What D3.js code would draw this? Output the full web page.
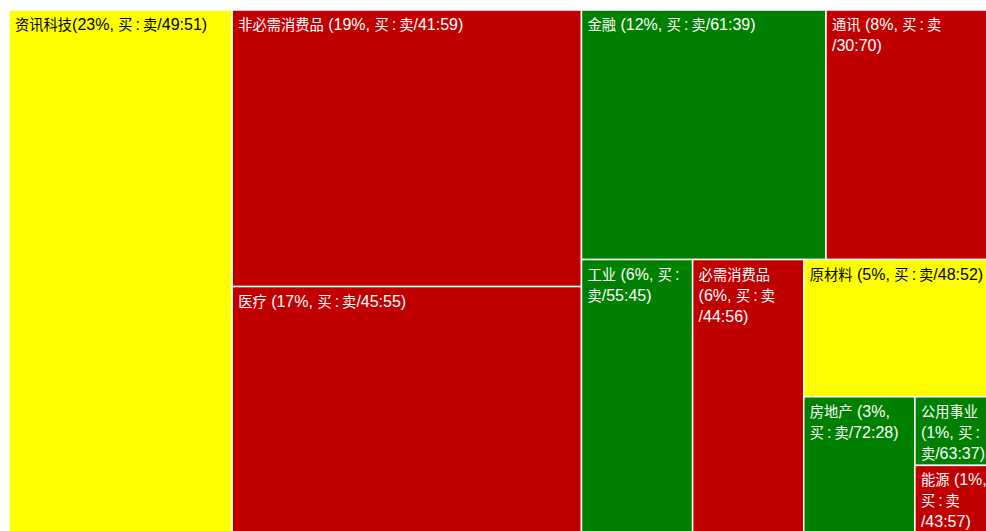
<!DOCTYPE html>
<html>
<head>
<meta charset="utf-8">
<script src="https://cdn.jsdelivr.net/npm/d3@7"></script>
<style>
  body { margin: 0; background: #fff; }
  svg { display: block; }
  text { font-family: "Liberation Sans", Arial, "Noto Sans CJK SC", sans-serif; font-size: 16px; }
</style>
</head>
<body>
<div id="chart"></div>
<script>
// chart dims
var width = 986;
var height = 531;

// sector data (share of index, buy:sell ratio)
var sectors = ["资讯科技", "非必需消费品", "医疗", "金融", "通讯", "工业", "必需消费品", "原材料", "房地产", "公用事业", "能源"];
var share = [23, 19, 17, 12, 8, 6, 6, 5, 3, 1, 1];
var buy = [49, 41, 45, 61, 30, 55, 44, 48, 72, 63, 43];
var sell = [51, 59, 55, 39, 70, 45, 56, 52, 28, 37, 57];

// how the blocks are nested in the picture
var blocks = ["资讯科技", ["非必需消费品", "医疗"],
    [["金融", "通讯"], ["工业", "必需消费品", ["原材料", ["房地产", ["公用事业", "能源"]]]]]];

function toNode(b) {
    if (typeof b === "string") return { name: b, i: sectors.indexOf(b) };
    return { children: b.map(toNode) };
}

var root = d3.hierarchy(toNode(blocks))
    .sum(function(d) { return d.children ? 0 : share[d.i]; });

// cut along the longer side of each block
function tile(node, x0, y0, x1, y1) {
    if (x1 - x0 > y1 - y0) d3.treemapDice(node, x0, y0, x1, y1);
    else d3.treemapSlice(node, x0, y0, x1, y1);
}

d3.treemap().tile(tile).size([980, 524])(root);

var color = d3.scaleThreshold()
    .domain([47, 54])
    .range(["#c00000", "#ffff00", "#008000"]);

var svg = d3.select("#chart").append("svg")
    .attr("width", width)
    .attr("height", height);

var g = svg.append("g").attr("transform", "translate(9,10)");

var cells = g.selectAll("g.cell")
    .data(root.leaves()).enter()
    .append("g")
    .attr("class", "cell");

cells.append("rect")
    .attr("x", function(d) { return d.x0; })
    .attr("y", function(d) { return d.y0; })
    .attr("width", function(d) { return d.x1 - d.x0; })
    .attr("height", function(d) { return d.y1 - d.y0; })
    .attr("fill", function(d) { return color(buy[d.data.i]); })
    .attr("stroke", "#fff")
    .attr("stroke-width", 1.5);

// label text settings
var cjkSize = 14.25;
var gap = 3;   // extra space round the colon in 买:卖
var CJK = /[\u4e00-\u9fff]/;

// hidden text used to measure widths
var measure = svg.append("text").attr("visibility", "hidden");
function textWidth(s, size) {
    measure.style("font-size", size + "px").text(s);
    return measure.node().getComputedTextLength();
}
var spaceW = textWidth("x x", 16) - textWidth("xx", 16);

function tokWidth(t) {
    if (t.trim() === "") return spaceW * t.length;
    if (CJK.test(t[0])) {
        return textWidth(t[0], cjkSize) + (t.length > 1 ? textWidth(":", 16) + 2 * gap : 0);
    }
    return textWidth(t, 16);
}

function label(i) {
    var sep = i === 0 ? "" : " ";
    return sectors[i] + sep + "(" + share[i] + "%, 买:卖/" + buy[i] + ":" + sell[i] + ")";
}

function wrapLines(s, maxW) {
    var tokens = s.match(/[\u4e00-\u9fff]:?|[^\u4e00-\u9fff\s]+|\s+/g);
    var lines = [];
    var cur = [], curW = 0, hasWord = false;
    tokens.forEach(function(t) {
        var w = tokWidth(t);
        var space = t.trim() === "";
        if (space && !hasWord) return;
        if (!space && hasWord && curW + w > maxW) {
            while (cur.length && cur[cur.length - 1].trim() === "") cur.pop();
            lines.push(cur);
            cur = [t]; curW = w;
        } else {
            cur.push(t); curW += w;
        }
        if (!space) hasWord = true;
    });
    while (cur.length && cur[cur.length - 1].trim() === "") cur.pop();
    if (cur.length) lines.push(cur);
    return lines;
}

cells.each(function(d) {
    var i = d.data.i;
    var x = d.x0 + 6;
    var lines = wrapLines(label(i), d.x1 - d.x0 - 5);
    var txt = d3.select(this).append("text")
        .attr("x", x)
        .attr("y", d.y0 + 20)
        .attr("fill", color(buy[i]) === "#ffff00" ? "#000" : "#fff");
    lines.forEach(function(toks, k) {
        var first = true, pending = 0;
        toks.forEach(function(t) {
            var parts = CJK.test(t[0])
                ? [[t[0], cjkSize, 0]].concat(t.length > 1 ? [[":", null, gap]] : [])
                : [[t, null, 0]];
            parts.forEach(function(p) {
                var ts = txt.append("tspan").text(p[0]);
                if (p[1]) ts.attr("font-size", p[1]);
                var dx = p[2] + pending;
                pending = 0;
                if (first) {
                    ts.attr("x", x).attr("dy", k === 0 ? 0 : 21);
                    first = false;
                }
                if (dx) ts.attr("dx", dx);
                if (p[0] === ":") pending = gap;
            });
        });
    });
});

measure.remove();
</script>
</body>
</html>
